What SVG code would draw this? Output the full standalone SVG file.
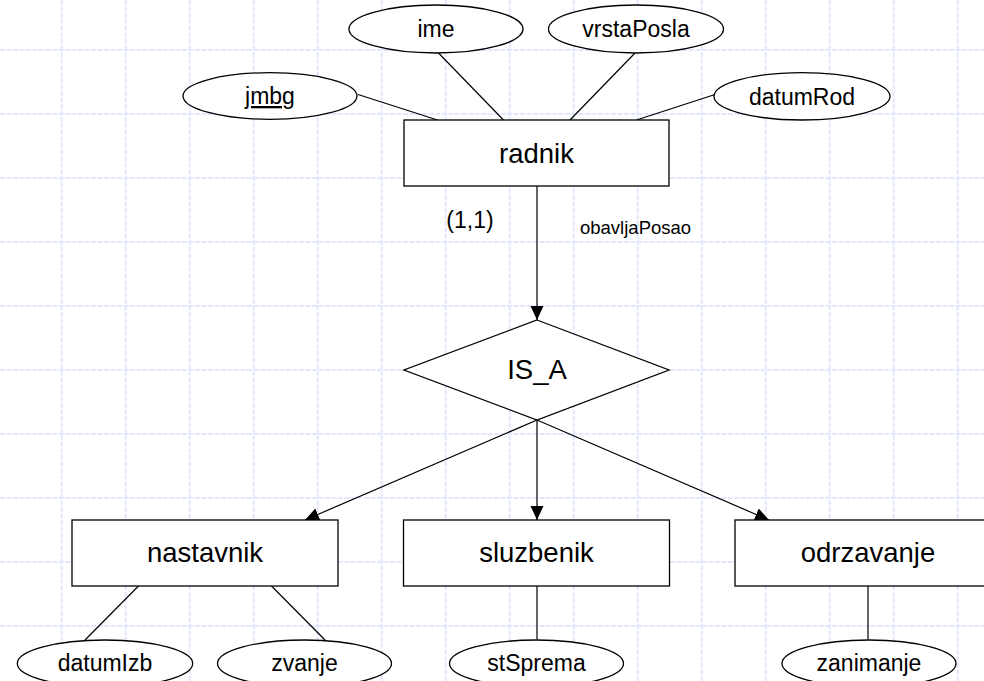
<svg xmlns="http://www.w3.org/2000/svg" width="984" height="681" viewBox="0 0 984 681">
<defs>
<style>
.grid line{stroke:#e1e8fd;stroke-width:2;stroke-dasharray:5 1.5}
.shape{fill:#fff;stroke:#000;stroke-width:1.3}
.conn line{stroke:#000;stroke-width:1.2}
.big{font-family:"Liberation Sans",Arial,sans-serif;font-size:27.5px;fill:#000;text-anchor:middle}
.attr{font-family:"Liberation Sans",Arial,sans-serif;font-size:23px;fill:#000;text-anchor:middle}
.small{font-family:"Liberation Sans",Arial,sans-serif;font-size:18.5px;fill:#000}
</style>
<marker id="arr" markerUnits="userSpaceOnUse" markerWidth="15" markerHeight="14" refX="14" refY="6.5" orient="auto">
<path d="M0,0 L14,6.5 L0,13 z" fill="#000"/>
</marker>
</defs>
<rect x="0" y="0" width="984" height="681" fill="#fff"/>
<g class="grid">
<line x1="61.7" y1="0" x2="61.7" y2="681"/>
<line x1="125.7" y1="0" x2="125.7" y2="681"/>
<line x1="189.7" y1="0" x2="189.7" y2="681"/>
<line x1="253.7" y1="0" x2="253.7" y2="681"/>
<line x1="317.7" y1="0" x2="317.7" y2="681"/>
<line x1="381.7" y1="0" x2="381.7" y2="681"/>
<line x1="445.7" y1="0" x2="445.7" y2="681"/>
<line x1="509.7" y1="0" x2="509.7" y2="681"/>
<line x1="573.7" y1="0" x2="573.7" y2="681"/>
<line x1="637.7" y1="0" x2="637.7" y2="681"/>
<line x1="701.7" y1="0" x2="701.7" y2="681"/>
<line x1="765.7" y1="0" x2="765.7" y2="681"/>
<line x1="829.7" y1="0" x2="829.7" y2="681"/>
<line x1="893.7" y1="0" x2="893.7" y2="681"/>
<line x1="957.7" y1="0" x2="957.7" y2="681"/>
<line x1="0" y1="50" x2="984" y2="50"/>
<line x1="0" y1="114" x2="984" y2="114"/>
<line x1="0" y1="178" x2="984" y2="178"/>
<line x1="0" y1="242" x2="984" y2="242"/>
<line x1="0" y1="306" x2="984" y2="306"/>
<line x1="0" y1="370" x2="984" y2="370"/>
<line x1="0" y1="434" x2="984" y2="434"/>
<line x1="0" y1="498" x2="984" y2="498"/>
<line x1="0" y1="562" x2="984" y2="562"/>
<line x1="0" y1="626" x2="984" y2="626"/>
</g>
<g id="connectors" class="conn">
<line x1="358" y1="94.5" x2="437.5" y2="120"/>
<line x1="438.5" y1="53" x2="503.5" y2="120"/>
<line x1="635" y1="53" x2="570" y2="120"/>
<line x1="715" y1="94.5" x2="636.5" y2="120"/>
<line x1="537" y1="186" x2="537" y2="320" marker-end="url(#arr)"/>
<line x1="537" y1="420" x2="305" y2="520" marker-end="url(#arr)"/>
<line x1="537" y1="420" x2="537" y2="520" marker-end="url(#arr)"/>
<line x1="537" y1="420" x2="769" y2="520" marker-end="url(#arr)"/>
<line x1="138.5" y1="586" x2="85" y2="640"/>
<line x1="271.5" y1="586" x2="325" y2="640"/>
<line x1="537" y1="586" x2="537" y2="639.5"/>
<line x1="868" y1="586" x2="868" y2="639.5"/>
</g>
<g id="label-card">
<text class="attr" x="470" y="228">(1,1)</text>
</g>
<g id="label-rel">
<text class="small" x="580" y="234">obavljaPosao</text>
</g>
<g id="jmbg">
<ellipse class="shape" cx="270" cy="96" rx="87" ry="23.3"/>
<text class="attr" x="270" y="104" text-decoration="underline">jmbg</text>
</g>
<g id="ime">
<ellipse class="shape" cx="436" cy="29" rx="87" ry="24"/>
<text class="attr" x="436" y="37">ime</text>
</g>
<g id="vrstaPosla">
<ellipse class="shape" cx="636" cy="29" rx="87.5" ry="24"/>
<text class="attr" x="636" y="37">vrstaPosla</text>
</g>
<g id="datumRod">
<ellipse class="shape" cx="802" cy="96.3" rx="88" ry="23.7"/>
<text class="attr" x="802" y="104.5">datumRod</text>
</g>
<g id="radnik">
<rect class="shape" x="404" y="120" width="265" height="66"/>
<text class="big" x="536.5" y="162.5">radnik</text>
</g>
<g id="is_a">
<polygon class="shape" points="537,320 669,370 537,420 404,370"/>
<text class="big" x="537" y="379">IS_A</text>
</g>
<g id="nastavnik">
<rect class="shape" x="72" y="520" width="266" height="66"/>
<text class="big" x="205" y="562">nastavnik</text>
</g>
<g id="sluzbenik">
<rect class="shape" x="403.5" y="520" width="266" height="66"/>
<text class="big" x="536.5" y="562">sluzbenik</text>
</g>
<g id="odrzavanje">
<rect class="shape" x="735" y="520" width="266" height="66"/>
<text class="big" x="868" y="562">odrzavanje</text>
</g>
<g id="datumIzb">
<ellipse class="shape" cx="105" cy="663.5" rx="87.7" ry="23.5"/>
<text class="attr" x="105" y="670.5">datumIzb</text>
</g>
<g id="zvanje">
<ellipse class="shape" cx="304.5" cy="663.5" rx="87" ry="23.5"/>
<text class="attr" x="304.5" y="670.5">zvanje</text>
</g>
<g id="stSprema">
<ellipse class="shape" cx="536.5" cy="663.5" rx="87" ry="23.5"/>
<text class="attr" x="536.5" y="670.5">stSprema</text>
</g>
<g id="zanimanje">
<ellipse class="shape" cx="869" cy="663.5" rx="87" ry="23.5"/>
<text class="attr" x="869" y="670.5">zanimanje</text>
</g>
</svg>
